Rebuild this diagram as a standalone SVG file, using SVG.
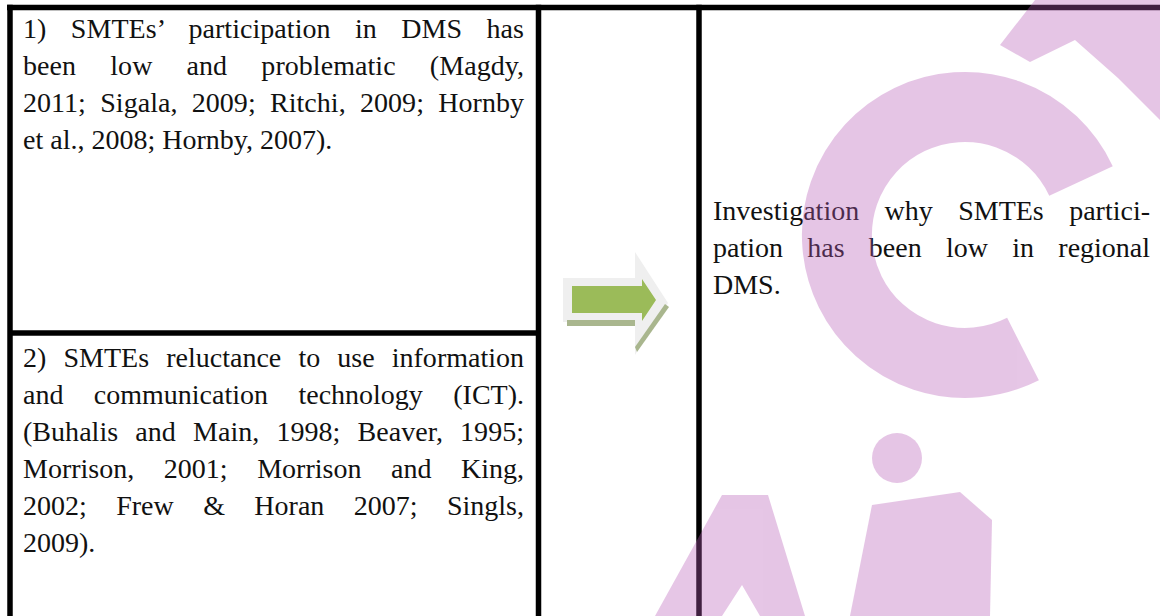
<svg xmlns="http://www.w3.org/2000/svg" width="1160" height="616" viewBox="0 0 1160 616">
  <style>
    .txt { font-family: "Liberation Serif", "Times New Roman", serif; font-size: 28px; fill: #111; }
    .rule { stroke: #000; stroke-width: 5.5; fill: none; }
    .mark { fill: #b75bb7; }
  </style>
  <rect width="1160" height="616" fill="#fff"/>

  <!-- table rules -->
  <g id="grid">
    <line class="rule" x1="7" y1="7.5" x2="1160" y2="7.5"/>
    <line class="rule" x1="10" y1="4.7" x2="10" y2="616"/>
    <line class="rule" x1="538.5" y1="4.7" x2="538.5" y2="616"/>
    <line class="rule" x1="10" y1="333" x2="538.5" y2="333"/>
    <line class="rule" x1="699" y1="4.7" x2="699" y2="616"/>
  </g>

  <!-- first cause -->
  <g id="cell-1">
    <text class="txt" x="23" y="38" word-spacing="17.3" textLength="501" lengthAdjust="spacing">1) SMTEs’ participation in DMS has</text>
    <text class="txt" x="23" y="75" word-spacing="27.1" textLength="501" lengthAdjust="spacing">been low and problematic (Magdy,</text>
    <text class="txt" x="23" y="112" word-spacing="7.3" textLength="501" lengthAdjust="spacing">2011; Sigala, 2009; Ritchi, 2009; Hornby</text>
    <text class="txt" x="23" y="149">et al., 2008; Hornby, 2007).</text>
  </g>

  <!-- second cause -->
  <g id="cell-2">
    <text class="txt" x="23" y="367" word-spacing="10.1" textLength="501" lengthAdjust="spacing">2) SMTEs reluctance to use information</text>
    <text class="txt" x="23" y="404" word-spacing="23.4" textLength="501" lengthAdjust="spacing">and communication technology (ICT).</text>
    <text class="txt" x="23" y="441" word-spacing="10.1" textLength="501" lengthAdjust="spacing">(Buhalis and Main, 1998; Beaver, 1995;</text>
    <text class="txt" x="23" y="478" word-spacing="22.6" textLength="501" lengthAdjust="spacing">Morrison, 2001; Morrison and King,</text>
    <text class="txt" x="23" y="515" word-spacing="22.4" textLength="501" lengthAdjust="spacing">2002; Frew &amp; Horan 2007; Singls,</text>
    <text class="txt" x="23" y="552">2009).</text>
  </g>

  <!-- block arrow -->
  <g id="arrow">
    <polygon points="563,278 635,278 635,252 668,303 635,355 635,322 563,322" fill="#efefef"/>
    <rect x="567" y="320" width="68" height="6" fill="#a9b68e"/>
    <polygon points="665,304 669,307 637,352 635,347" fill="#a9b68e"/>
    <polygon points="572,286 642,286 642,279 656,300 642,321 642,313 572,313" fill="#9bbb59"/>
  </g>

  <!-- outcome -->
  <g id="cell-result">
    <text class="txt" x="713" y="220" word-spacing="18.4" textLength="437" lengthAdjust="spacing">Investigation why SMTEs partici-</text>
    <text class="txt" x="713" y="257" word-spacing="17.3" textLength="437" lengthAdjust="spacing">pation has been low in regional</text>
    <text class="txt" x="713" y="294">DMS.</text>
  </g>

  <!-- translucent background lettering -->
  <g id="watermark" opacity="0.35">
    <path d="M1081,181 A128,128 0 1 0 1023,349" fill="none" stroke="#b75bb7" stroke-width="70"/>
    <polygon class="mark" points="1035,0 1160,0 1160,120 1118,78 1075,40 1030,62 1000,45"/>
    <circle class="mark" cx="897" cy="458" r="25"/>
    <polygon class="mark" points="872,505 960,492 992,520 990,616 850,616"/>
    <polygon class="mark" points="655,616 722,495 768,495 805,616 760,616 742,585 722,616"/>
  </g>
</svg>
